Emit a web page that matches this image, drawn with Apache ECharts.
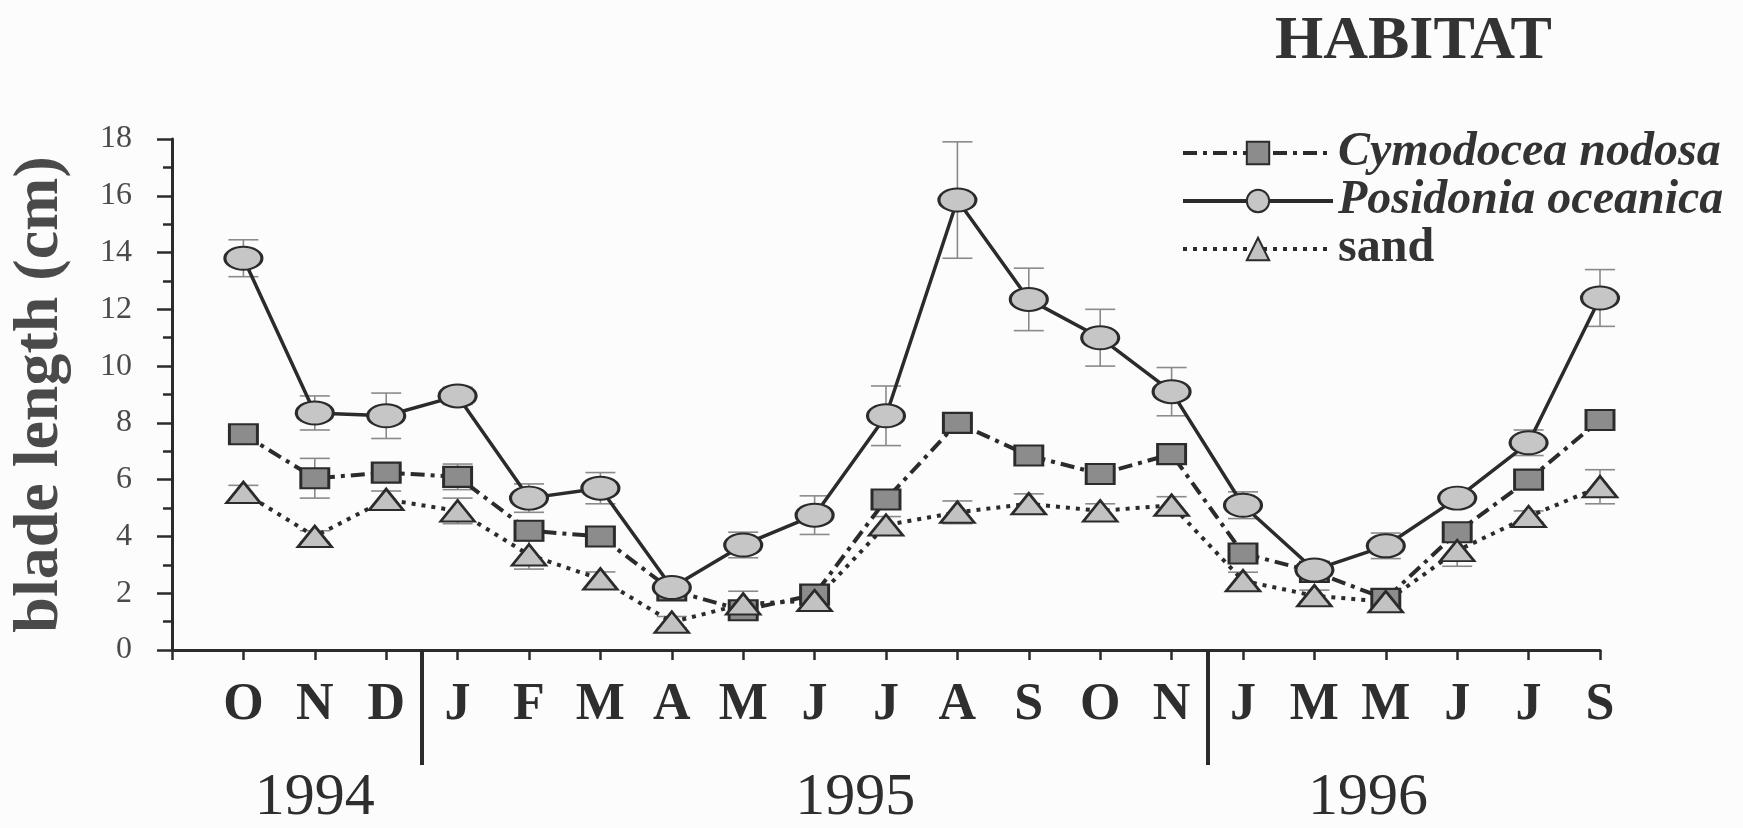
<!DOCTYPE html>
<html>
<head>
<meta charset="utf-8">
<script src="https://cdn.jsdelivr.net/npm/echarts@6/dist/echarts.min.js"></script>
<style>
  html, body { margin: 0; padding: 0; background: #fcfcfc; }
  #chart { width: 1743px; height: 828px; }
</style>
</head>
<body>
<div id="chart"></div>
<script>
  // months sampled (Oct 1994 .. Sep 1996)
  var months = ['O', 'N', 'D', 'J', 'F', 'M', 'A', 'M', 'J', 'J', 'A', 'S', 'O', 'N', 'J', 'M', 'M', 'J', 'J', 'S'];
  var yearLabels = ['1994', '1995', '1996'];
  var yearPos = [2, 9.57, 16.75];
  var yearBreaks = [3.5, 14.5];

  // mean blade length (cm) and error
  var cymodocea = [7.6, 6.05, 6.25, 6.1, 4.2, 4.0, 2.1, 1.4, 1.95, 5.3, 8.0, 6.85, 6.2, 6.9, 3.4, 2.75, 1.8, 4.15, 6.0, 8.1];
  var cymodoceaErr = [0.2, 0.7, 0.25, 0.45, 0.3, 0.2, 0.15, 0.2, 0.2, 0.3, 0.2, 0.25, 0.2, 0.25, 0.25, 0.2, 0.2, 0.3, 0.25, 0.2];
  var posidonia = [13.8, 8.35, 8.25, 8.95, 5.35, 5.7, 2.2, 3.7, 4.75, 8.25, 15.85, 12.35, 11.0, 9.1, 5.1, 2.82, 3.67, 5.35, 7.3, 12.4];
  var posidoniaErr = [0.65, 0.6, 0.8, 0.3, 0.5, 0.55, 0.25, 0.45, 0.68, 1.05, 2.05, 1.1, 1.0, 0.85, 0.47, 0.25, 0.45, 0.25, 0.45, 1.0];
  var sand = [5.55, 4.0, 5.3, 4.9, 3.35, 2.5, 0.98, 1.62, 1.74, 4.4, 4.85, 5.15, 4.9, 5.1, 2.44, 1.91, 1.7, 3.5, 4.7, 5.75];
  var sandErr = [0.25, 0.2, 0.3, 0.45, 0.5, 0.25, 0.2, 0.45, 0.25, 0.3, 0.4, 0.35, 0.25, 0.3, 0.3, 0.2, 0.25, 0.55, 0.2, 0.6];

  var serif = 'Liberation Serif';
  var ink = '#2b2b2b';

  function points(vals) {
    return vals.map(function (v, i) { return [i + 1, v]; });
  }

  // error bars with caps, drawn under the lines
  function errorBars(vals, errs) {
    return {
      type: 'custom',
      z: 1,
      silent: true,
      data: vals.map(function (v, i) { return [i + 1, v, errs[i]]; }),
      encode: { x: 0, y: 1 },
      renderItem: function (params, api) {
        var x = api.value(0), m = api.value(1), e = api.value(2);
        var hi = api.coord([x, m + e]);
        var lo = api.coord([x, m - e]);
        var w = 15;
        var st = { stroke: '#8a8a8a', lineWidth: 1.6 };
        return {
          type: 'group',
          children: [
            { type: 'line', shape: { x1: hi[0], y1: hi[1], x2: lo[0], y2: lo[1] }, style: st },
            { type: 'line', shape: { x1: hi[0] - w, y1: hi[1], x2: hi[0] + w, y2: hi[1] }, style: st },
            { type: 'line', shape: { x1: lo[0] - w, y1: lo[1], x2: lo[0] + w, y2: lo[1] }, style: st }
          ]
        };
      }
    };
  }

  var chart = echarts.init(document.getElementById('chart'));
  chart.setOption({
    backgroundColor: '#fcfcfc',
    animation: false,
    title: {
      text: 'HABITAT',
      left: 1270,
      top: 6,
      textStyle: { fontFamily: serif, fontWeight: 'bold', fontSize: 62, color: '#333' }
    },
    legend: {
      data: ['Cymodocea nodosa', 'Posidonia oceanica', 'sand'],
      orient: 'vertical',
      left: 1176,
      top: 124,
      itemWidth: 150,
      itemHeight: 28,
      itemGap: 0,
      selectedMode: false,
      lineStyle: { width: 4, type: 'inherit' },
      formatter: function (name) {
        return name === 'sand' ? name : '{i|' + name + '}';
      },
      textStyle: {
        fontFamily: serif, fontWeight: 'bold', fontSize: 48, lineHeight: 46, color: '#333',
        rich: {
          i: { fontFamily: serif, fontWeight: 'bold', fontStyle: 'italic', fontSize: 48, lineHeight: 46, color: '#333' }
        }
      }
    },
    grid: { left: 172, right: 143, top: 139, bottom: 175 },
    xAxis: [{
      type: 'value',
      min: 0,
      max: 20,
      interval: 1,
      axisLine: { lineStyle: { color: ink, width: 3 } },
      axisTick: { length: 10, lineStyle: { color: ink, width: 2.5 } },
      axisLabel: {
        margin: 30,
        fontFamily: serif,
        fontWeight: 'bold',
        fontSize: 52,
        color: '#2e2e2e',
        formatter: function (v) { return months[v - 1] || ''; }
      },
      splitLine: { show: false }
    }, {
      type: 'value',
      min: 0,
      max: 20,
      position: 'bottom',
      axisLine: { show: false },
      axisTick: { show: true, customValues: yearBreaks, length: 115, lineStyle: { color: ink, width: 4 } },
      axisLabel: {
        customValues: yearPos,
        margin: 118,
        fontFamily: serif,
        fontSize: 60,
        color: '#2e2e2e',
        formatter: function (v) { return yearLabels[yearPos.indexOf(v)]; }
      },
      splitLine: { show: false }
    }],
    yAxis: {
      type: 'value',
      min: 0,
      max: 18,
      interval: 2,
      name: 'blade length (cm)',
      nameLocation: 'middle',
      nameGap: 100,
      nameTextStyle: { fontFamily: serif, fontWeight: 'bold', fontSize: 64, color: '#4a4a4a' },
      axisLine: { show: true, lineStyle: { color: ink, width: 3 } },
      axisTick: { show: true, length: 15, lineStyle: { color: ink, width: 2.5 } },
      minorTick: { show: true, splitNumber: 2, length: 9, lineStyle: { color: ink, width: 2.5 } },
      axisLabel: { margin: 40, fontFamily: serif, fontSize: 32, color: '#4a4a4a' },
      splitLine: { show: false }
    },
    series: [
      errorBars(cymodocea, cymodoceaErr),
      errorBars(posidonia, posidoniaErr),
      errorBars(sand, sandErr),
      {
        name: 'Cymodocea nodosa',
        type: 'line',
        data: points(cymodocea),
        color: ink,
        symbol: 'rect',
        symbolSize: [28, 20],
        lineStyle: { color: ink, width: 4, type: [14, 6, 4, 6] },
        itemStyle: { color: '#8c8c8c', borderColor: ink, borderWidth: 2.5 }
      },
      {
        name: 'Posidonia oceanica',
        type: 'line',
        data: points(posidonia),
        color: ink,
        symbol: 'circle',
        symbolSize: [37, 23],
        lineStyle: { color: ink, width: 3.5, type: 'solid' },
        itemStyle: { color: '#c6c6c6', borderColor: ink, borderWidth: 2.5 }
      },
      {
        name: 'sand',
        type: 'line',
        data: points(sand),
        color: ink,
        symbol: 'triangle',
        symbolSize: [34, 21],
        lineStyle: { color: ink, width: 4, type: [4, 6] },
        itemStyle: { color: '#c2c2c2', borderColor: ink, borderWidth: 2.5 }
      }
    ]
  });
</script>
</body>
</html>
